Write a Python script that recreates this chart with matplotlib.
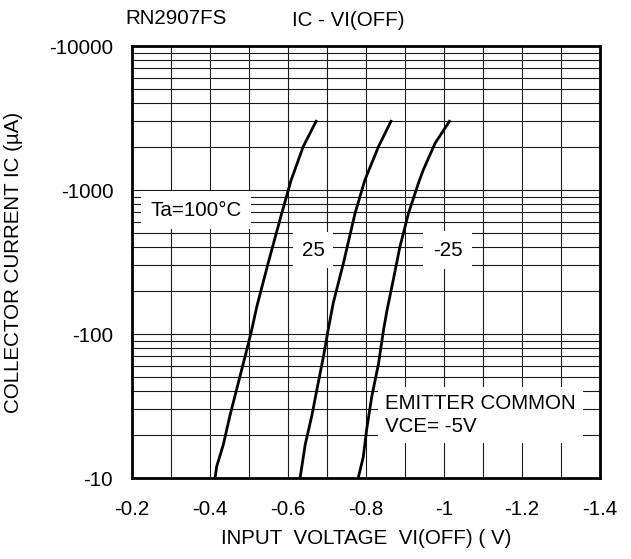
import numpy as np
import matplotlib
matplotlib.use("Agg")
import matplotlib.pyplot as plt
from matplotlib.ticker import FixedLocator, LogLocator, FuncFormatter, NullFormatter

plt.rcParams['font.family'] = ['Liberation Sans', 'DejaVu Sans']
plt.rcParams['axes.unicode_minus'] = False

# IC - VI(OFF) curves, VCE = -5 V, emitter common
vi_100 = [-0.413, -0.417, -0.434, -0.451, -0.468, -0.494, -0.507, -0.520,
          -0.549, -0.584, -0.608, -0.639, -0.672]
ic_100 = [-10, -12, -17, -27, -41, -77, -107, -155, -310, -690, -1170, -2000, -3000]

vi_25 = [-0.631, -0.644, -0.661, -0.674, -0.691, -0.703, -0.716, -0.742,
         -0.772, -0.797, -0.832, -0.864]
ic_25 = [-10, -17, -27, -41, -70, -107, -164, -310, -690, -1170, -2000, -3000]

vi_m25 = [-0.780, -0.793, -0.802, -0.815, -0.832, -0.845, -0.853, -0.870,
          -0.887, -0.909, -0.937, -0.947, -0.977, -1.014]
ic_m25 = [-10, -14, -22, -37, -62, -107, -142, -238, -404, -690, -1170, -1380, -2110, -3000]

x_ticks = [-0.2, -0.4, -0.6, -0.8, -1.0, -1.2, -1.4]
y_ticks = [-10, -100, -1000, -10000]

FS = 14.8

fig = plt.figure(figsize=(6.31, 5.59), dpi=100)
ax = fig.add_axes([132 / 631, 1 - 478 / 559, 468 / 631, 432 / 559])

for vi, ic in [(vi_100, ic_100), (vi_25, ic_25), (vi_m25, ic_m25)]:
    ax.plot(vi, np.abs(ic), color='black', lw=2.0, zorder=4)

ax.set_yscale('log')
ax.set_xlim(-0.2, -1.4)
ax.set_ylim(10, 10000)

ax.xaxis.set_major_locator(FixedLocator(x_ticks))
ax.xaxis.set_minor_locator(FixedLocator(np.arange(-0.3, -1.35, -0.2)))
ax.xaxis.set_major_formatter(FuncFormatter(lambda v, p: '%g' % v))
ax.yaxis.set_major_locator(FixedLocator(np.abs(y_ticks)))
ax.yaxis.set_minor_locator(LogLocator(base=10, subs=np.arange(2, 10)))
ax.yaxis.set_major_formatter(FuncFormatter(lambda v, p: '-%g' % v))
ax.yaxis.set_minor_formatter(NullFormatter())

ax.grid(True, which='both', color='#1a1a1a', lw=0.8, zorder=1)
ax.set_axisbelow(True)
ax.tick_params(which='both', length=0, labelsize=FS)
ax.tick_params(axis='x', pad=16)
ax.tick_params(axis='y', pad=13.5)
for s in ax.spines.values():
    s.set_linewidth(2.0)
    s.set_zorder(5)

ax.set_xlabel('INPUT  VOLTAGE  VI(OFF) ( V)', fontsize=FS, labelpad=7)
ax.set_ylabel('COLLECTOR CURRENT IC (\u00b5A)', fontsize=FS)
ax.yaxis.set_label_coords(-0.233, 0.5)

ax.text(-0.364, 726, 'Ta=100\u00b0C', fontsize=FS, ha='center', va='center',
        bbox=dict(facecolor='white', edgecolor='none', pad=7), zorder=3)
ax.text(-0.664, 383, '25', fontsize=FS, ha='center', va='center',
        bbox=dict(facecolor='white', edgecolor='none', pad=6), zorder=3)
ax.text(-1.01, 383, '-25', fontsize=FS, ha='center', va='center',
        bbox=dict(facecolor='white', edgecolor='none', pad=7), zorder=3)
ax.text(-0.849, 27.4, 'EMITTER COMMON\nVCE= -5V', fontsize=FS, ha='left', va='center',
        linespacing=1.25, bbox=dict(facecolor='white', edgecolor='none', pad=5), zorder=3)

fig.text(176 / 631, 1 - 18 / 559, 'RN2907FS', fontsize=FS, ha='center', va='center')
fig.text(348 / 631, 1 - 20 / 559, 'IC - VI(OFF)', fontsize=FS, ha='center', va='center')

fig.savefig('out.png', dpi=100)
